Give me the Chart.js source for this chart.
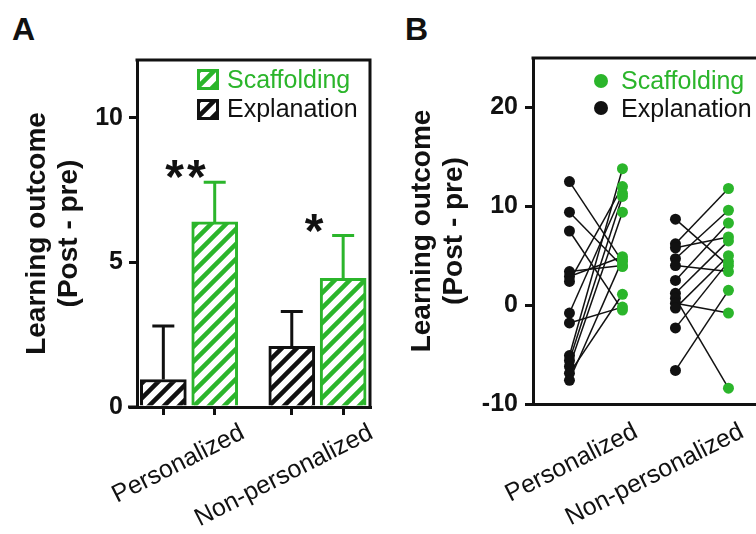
<!DOCTYPE html>
<html>
<head>
<meta charset="utf-8">
<script src="https://cdn.jsdelivr.net/npm/chart.js@4.4.1/dist/chart.umd.min.js"></script>
<style>
  html, body { margin: 0; padding: 0; background: #fff; overflow: hidden; }
  body { width: 756px; height: 534px; position: relative; font-family: 'Liberation Sans', Arial, sans-serif; }
  .panel-letter { position: absolute; top: 13px; font-size: 32px; font-weight: bold; line-height: 1; color: #111; }
  canvas { position: absolute; top: 0; }
  #chartA { left: 0; }
  #chartB { left: 378px; }
</style>
</head>
<body>
<div class="panel-letter" style="left:12px">A</div>
<div class="panel-letter" style="left:405px">B</div>
<canvas id="chartA" width="378" height="534"></canvas>
<canvas id="chartB" width="400" height="534"></canvas>
<script>
(function () {
  'use strict';

  // -- Panel A: group means and SEM --
  var categories = ['Personalized', 'Non-personalized'];
  var explanationMean = [0.95, 2.1];
  var explanationSem = [1.85, 1.2];
  var scaffoldingMean = [6.4, 4.45];
  var scaffoldingSem = [1.37, 1.48];
  var significance = ['**', '*'];
  var yTicksA = [0, 5, 10];

  // -- Panel B: paired individual outcomes --
  var persExplanation = [12.5, 9.4, 7.5, 3.4, 2.9, 2.4, -0.8, -1.8, -5.1, -5.6, -6.2, -6.9, -7.6];
  var persScaffolding = [4.4, 3.9, -0.5, 4.0, 4.9, 12.0, 11.3, -0.2, 13.8, 11.0, 9.4, 1.1, 4.6];
  var nonpersExplanation = [8.7, 6.2, 5.8, 4.7, 4.0, 2.5, 1.2, 0.7, 0.2, -0.3, -2.3, -6.6];
  var nonpersScaffolding = [4.0, 11.8, 6.9, 9.6, 3.4, 8.3, 6.5, -8.4, -0.8, 5.0, 4.4, 1.5];
  var yTicksB = [-10, 0, 10, 20];

  var FONT = "'Liberation Sans', Arial, Helvetica, sans-serif";
  var GREEN = '#2BB52B';
  var BLACK = '#111111';

  Chart.defaults.font.family = FONT;
  Chart.defaults.color = BLACK;
  Chart.defaults.plugins.legend.display = false;
  Chart.defaults.plugins.tooltip.enabled = false;

  // -- hatch fill (diagonal "/" stripes on white) --
  function hatch(color) {
    var c = document.createElement('canvas');
    c.width = c.height = 15;
    var g = c.getContext('2d');
    g.fillStyle = '#fff';
    g.fillRect(0, 0, 15, 15);
    g.strokeStyle = color;
    g.lineWidth = 4.5;
    g.beginPath();
    g.moveTo(-5, 20); g.lineTo(20, -5);
    g.moveTo(-5, 5); g.lineTo(5, -5);
    g.moveTo(10, 20); g.lineTo(20, 10);
    g.stroke();
    return g.createPattern(c, 'repeat');
  }

  function fixedTicks(values) {
    return function (scale) {
      scale.ticks = values.map(function (v) { return { value: v }; });
    };
  }

  var Y_TITLE = ['Learning outcome', '(Post - pre)'];
  var TITLE_FONT = { size: 28, weight: 'bold', lineHeight: 1.15 };
  var TICK_FONT = { size: 25, weight: 'bold' };
  var AXIS_GRID = { drawOnChartArea: false, offset: false, tickLength: 8, lineWidth: 3, color: BLACK };
  var AXIS_BORDER = { color: BLACK, width: 3 };

  // box on top/right, plus the bit of x axis that sticks out on the left
  function framePlugin(extendLeft) {
    return {
      id: 'frame',
      afterDraw: function (chart) {
        var a = chart.chartArea, ctx = chart.ctx;
        ctx.save();
        ctx.strokeStyle = BLACK;
        ctx.lineWidth = 3;
        ctx.beginPath();
        ctx.moveTo(a.left - 1.5, a.top);
        ctx.lineTo(a.right, a.top);
        ctx.lineTo(a.right, a.bottom + 1.5);
        if (extendLeft) {
          ctx.moveTo(a.left - extendLeft, a.bottom);
          ctx.lineTo(a.left, a.bottom);
        }
        ctx.stroke();
        ctx.restore();
      }
    };
  }

  // =============================================
  // A. Mean outcome — hatched bars + SEM
  // =============================================
  var OFF_A = 0.2;
  function barPoints(means, side) {
    return means.map(function (m, i) { return { x: i + side * OFF_A, y: m }; });
  }

  var errorBarsA = {
    id: 'errorBarsA',
    afterDatasetsDraw: function (chart) {
      var ctx = chart.ctx, yS = chart.scales.y, xS = chart.scales.x;
      ctx.save();
      ctx.lineWidth = 3;
      chart.data.datasets.forEach(function (ds, d) {
        var meta = chart.getDatasetMeta(d);
        ctx.strokeStyle = ds.borderColor;
        meta.data.forEach(function (bar, i) {
          var top = yS.getPixelForValue(ds.means[i] + ds.sem[i]);
          ctx.beginPath();
          ctx.moveTo(bar.x, bar.y);
          ctx.lineTo(bar.x, top);
          ctx.moveTo(bar.x - 11, top);
          ctx.lineTo(bar.x + 11, top);
          ctx.stroke();
        });
      });
      // significance stars above each group
      ctx.fillStyle = BLACK;
      ctx.font = 'bold 48px ' + FONT;
      ctx.letterSpacing = '3px';
      ctx.textAlign = 'center';
      ctx.textBaseline = 'alphabetic';
      categories.forEach(function (c, i) {
        var top = Math.min(
          yS.getPixelForValue(explanationMean[i] + explanationSem[i]),
          yS.getPixelForValue(scaffoldingMean[i] + scaffoldingSem[i]));
        ctx.fillText(significance[i], xS.getPixelForValue(i) - 2, top + 11);
      });
      ctx.restore();
    }
  };

  var legendA = {
    id: 'legendA',
    afterDraw: function (chart) {
      var ctx = chart.ctx;
      var items = [
        { label: 'Scaffolding', ds: chart.data.datasets[1], y: 69, base: 88 },
        { label: 'Explanation', ds: chart.data.datasets[0], y: 99, base: 117 }
      ];
      ctx.save();
      ctx.font = '25px ' + FONT;
      ctx.textBaseline = 'alphabetic';
      items.forEach(function (it) {
        ctx.fillStyle = it.ds.backgroundColor;
        ctx.fillRect(198.5, it.y + 1.5, 19, 18);
        ctx.strokeStyle = it.ds.borderColor;
        ctx.lineWidth = 3;
        ctx.strokeRect(198.5, it.y + 1.5, 19, 18);
        ctx.fillStyle = it.ds.borderColor;
        ctx.fillText(it.label, 227, it.base);
      });
      ctx.restore();
    }
  };

  new Chart(document.getElementById('chartA'), {
    type: 'bar',
    data: {
      datasets: [
        {
          label: 'Explanation',
          data: barPoints(explanationMean, -1),
          means: explanationMean,
          sem: explanationSem,
          backgroundColor: hatch(BLACK),
          borderColor: BLACK,
          borderWidth: 3,
          borderSkipped: 'start',
          barThickness: 46,
          grouped: false
        },
        {
          label: 'Scaffolding',
          data: barPoints(scaffoldingMean, 1),
          means: scaffoldingMean,
          sem: scaffoldingSem,
          backgroundColor: hatch(GREEN),
          borderColor: GREEN,
          borderWidth: 3,
          borderSkipped: 'start',
          barThickness: 46,
          grouped: false
        }
      ]
    },
    options: {
      responsive: false,
      animation: false,
      layout: { padding: { top: 60, right: 8, left: 0, bottom: 0 } },
      scales: {
        x: {
          type: 'linear',
          offset: false,
          min: -0.405,
          max: 1.409,
          afterBuildTicks: fixedTicks([-OFF_A, OFF_A, 1 - OFF_A, 1 + OFF_A]),
          afterFit: function (s) { s.height = 127; },
          ticks: {
            autoSkip: false,
            minRotation: 27,
            maxRotation: 27,
            labelOffset: 28,
            padding: 3,
            font: { size: 25 },
            callback: function (v, i) { return i % 2 === 1 ? categories[(i - 1) / 2] : ''; }
          },
          grid: AXIS_GRID,
          border: AXIS_BORDER
        },
        y: {
          min: 0,
          max: 12,
          afterBuildTicks: fixedTicks(yTicksA),
          afterFit: function (s) { s.width = 137; },
          ticks: { font: TICK_FONT, padding: 6 },
          grid: AXIS_GRID,
          border: AXIS_BORDER,
          title: { display: true, text: Y_TITLE, font: TITLE_FONT, padding: { top: 21, bottom: 0 } }
        }
      }
    },
    plugins: [framePlugin(9), errorBarsA, legendA]
  });

  // =============================================
  // B. Individual outcomes — paired dots
  // =============================================
  var OFF_B = 0.25;
  var lineSets = [];
  var blackDots = [];
  var greenDots = [];
  function addPairs(expl, scaf, group) {
    expl.forEach(function (v, i) {
      var a = { x: group - OFF_B, y: v };
      var b = { x: group + OFF_B, y: scaf[i] };
      blackDots.push(a);
      greenDots.push(b);
      lineSets.push({
        type: 'line',
        data: [a, b],
        borderColor: BLACK,
        borderWidth: 1.5,
        pointRadius: 0,
        order: 2
      });
    });
  }
  addPairs(persExplanation, persScaffolding, 0);
  addPairs(nonpersExplanation, nonpersScaffolding, 1);

  var legendB = {
    id: 'legendB',
    afterDraw: function (chart) {
      var ctx = chart.ctx;
      var items = [
        { label: 'Scaffolding', color: GREEN, y: 81, base: 89 },
        { label: 'Explanation', color: BLACK, y: 108, base: 117 }
      ];
      ctx.save();
      ctx.font = '25px ' + FONT;
      items.forEach(function (it) {
        ctx.fillStyle = it.color;
        ctx.beginPath();
        ctx.arc(223, it.y, 7, 0, Math.PI * 2);
        ctx.fill();
        ctx.fillText(it.label, 243, it.base);
      });
      ctx.restore();
    }
  };

  new Chart(document.getElementById('chartB'), {
    type: 'scatter',
    data: {
      datasets: [
        { data: greenDots, backgroundColor: GREEN, pointRadius: 5.5, borderWidth: 0, order: 0 },
        { data: blackDots, backgroundColor: BLACK, pointRadius: 5.5, borderWidth: 0, order: 1 }
      ].concat(lineSets)
    },
    options: {
      responsive: false,
      animation: false,
      layout: { padding: { top: 58, right: 8, left: 0, bottom: 0 } },
      scales: {
        x: {
          type: 'linear',
          offset: false,
          min: -0.594,
          max: 1.642,
          afterBuildTicks: fixedTicks([0, 1]),
          afterFit: function (s) { s.height = 130; },
          ticks: {
            autoSkip: false,
            minRotation: 27,
            maxRotation: 27,
            labelOffset: 40,
            padding: 13,
            font: { size: 25 },
            callback: function (v, i) { return categories[i]; }
          },
          grid: { drawOnChartArea: false, drawTicks: false },
          border: AXIS_BORDER
        },
        y: {
          min: -10,
          max: 25,
          afterBuildTicks: fixedTicks(yTicksB),
          afterFit: function (s) { s.width = 155; },
          ticks: { font: TICK_FONT, padding: 7 },
          grid: AXIS_GRID,
          border: AXIS_BORDER,
          title: { display: true, text: Y_TITLE, font: TITLE_FONT, padding: { top: 28, bottom: 0 } }
        }
      }
    },
    plugins: [framePlugin(0), legendB]
  });
})();
</script>
</body>
</html>
